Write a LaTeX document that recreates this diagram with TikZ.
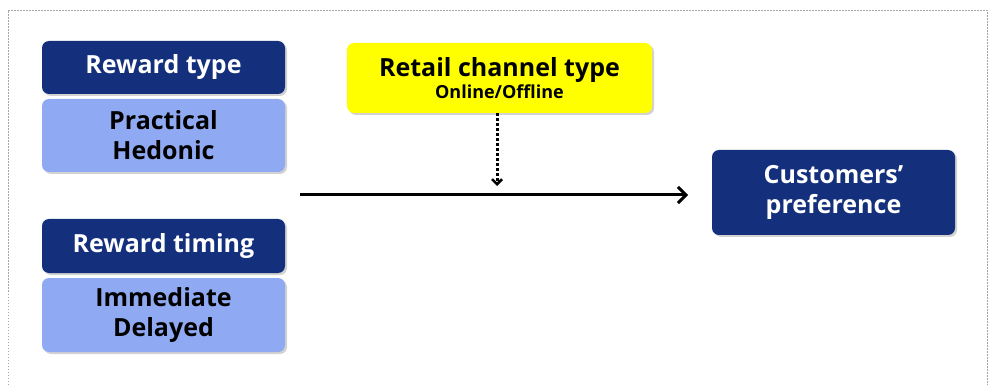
\documentclass[tikz,border=0pt]{standalone}
\usepackage{fontspec}
\setmainfont{Open Sans}
\usetikzlibrary{shadows,arrows.meta}
\definecolor{navy}{HTML}{14307C}
\definecolor{lightblue}{HTML}{8FAAF2}
\definecolor{yel}{HTML}{FFFF00}
\tikzset{
  box/.style={rounded corners=7pt, draw=none, align=center,
    drop shadow={shadow xshift=2pt, shadow yshift=-2pt, opacity=0.35}},
  darkbox/.style={box, fill=navy, text=white},
  lightbox/.style={box, fill=lightblue, text=black},
  big/.style={font=\bfseries\fontsize{25}{30}\selectfont},
}
\begin{document}
\begin{tikzpicture}[x=1pt,y=-1pt]
\useasboundingbox (0,0) rectangle (989,385);
\fill[white] (0,0) rectangle (989,385);
\draw[gray!70, dash pattern=on 1.5pt off 1.5pt] (8,385) -- (8,10) -- (987,10) -- (987,385);

\node[darkbox, big, minimum width=243pt, minimum height=53pt] (rt) at (163.5,67.5) {Reward type};
\node[lightbox, big, minimum width=243pt, minimum height=73pt] (ph) at (163.5,135.5) {Practical\\Hedonic};
\node[darkbox, big, minimum width=243pt, minimum height=54pt] (rti) at (163.5,246) {Reward timing};
\node[lightbox, big, minimum width=243pt, minimum height=74pt] (id) at (163.5,315) {Immediate\\Delayed};

\node[box, fill=yel, text=black, minimum width=305pt, minimum height=70pt, font=\bfseries\fontsize{18}{22}\selectfont] (rc) at (499.5,78)
  {{\fontsize{25}{26}\selectfont Retail channel type}\\[0pt]Online/Offline};

\node[darkbox, big, minimum width=243pt, minimum height=85pt] (cp) at (833.5,192.5) {Customers'\\preference};

\coordinate (s) at (300,195);
\coordinate (e) at (688,195);
\coordinate (m) at (497,186);
\draw[line width=3pt, -{Straight Barb[length=8pt,width=16pt,line width=3pt]}] (s) -- (e);
\draw[line width=3pt, dotted, -{Straight Barb[length=5pt,width=10pt,line width=2.5pt]}] (rc.south -| m) -- (m);
\end{tikzpicture}
\end{document}
